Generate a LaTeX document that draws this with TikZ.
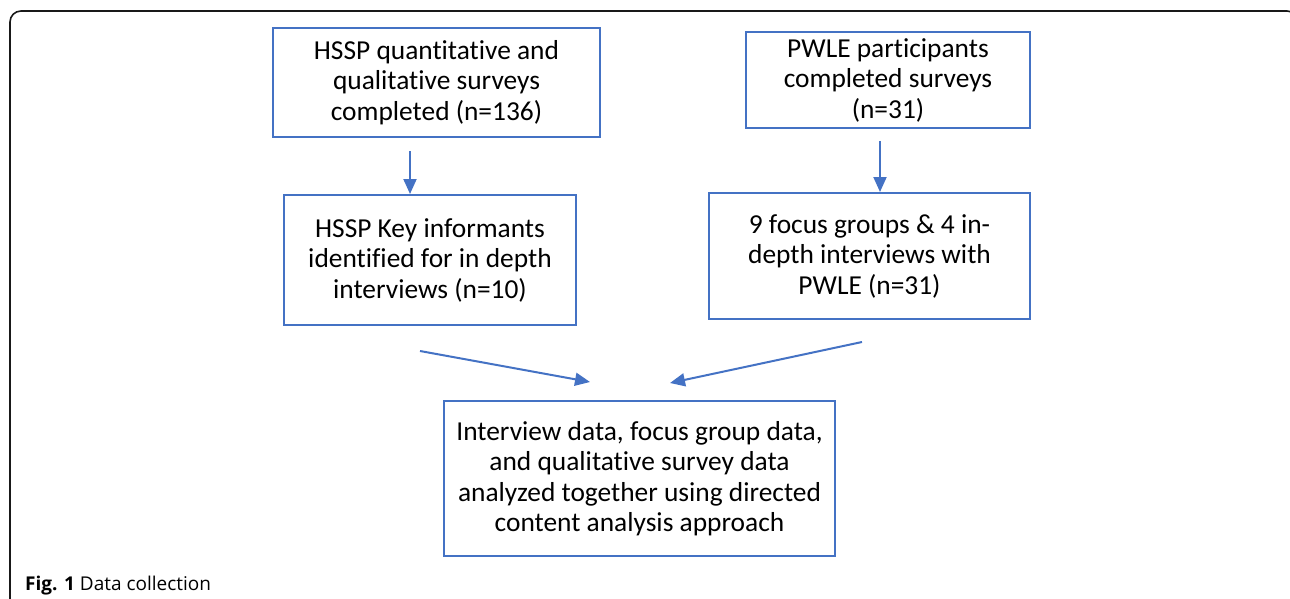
\documentclass[tikz,border=0pt]{standalone}
\usepackage{fontspec}
\setmainfont{Carlito}[Ligatures=NoCommon]
\newfontfamily\capfont{Open Sans}
\usetikzlibrary{arrows.meta, positioning}
\definecolor{boxblue}{RGB}{68,114,196}
\definecolor{framegray}{RGB}{25,25,25}

\begin{document}
\begin{tikzpicture}[x=1pt, y=-1pt,
  flowbox/.style={draw=boxblue, line width=2pt, align=center, inner sep=0pt,
    font=\fontsize{27.4}{30.5}\selectfont},
  flowarrow/.style={boxblue, line width=2pt, -{Triangle[length=15pt,width=13pt]}}]
  \useasboundingbox (0,0) rectangle (1290,599);
  \clip (0,0) rectangle (1290,599);
  % outer frame
  \draw[framegray, line width=1.6pt, rounded corners=11pt] (10,620) -- (10,11) -- (1298,11) -- (1298,620);
  % boxes
  \node[flowbox, minimum width=327pt, minimum height=109pt] (hssp) at (436.5,82.5)
    {HSSP quantitative and\\qualitative surveys\\completed (n=136)};
  \node[flowbox, minimum width=284pt, minimum height=96pt] (pwle) at (888,80)
    {PWLE participants\\completed surveys\\(n=31)};
  \node[flowbox, minimum width=292pt, minimum height=130pt] (key) at (430,260)
    {HSSP Key informants\\identified for in depth\\interviews (n=10)};
  \node[flowbox, minimum width=321pt, minimum height=126pt] (focus) at (869.5,256)
    {9 focus groups \& 4 in-\\depth interviews with\\PWLE (n=31)};
  \node[flowbox, minimum width=391pt, minimum height=155pt] (analysis) at (639.5,478.5)
    {Interview data, focus group data,\\and qualitative survey data\\analyzed together using directed\\content analysis approach};
  % arrows
  \draw[flowarrow] ([xshift=-26.5pt,yshift=-13pt]hssp.south) -- ([xshift=-20pt]key.north);
  \draw[flowarrow] ([xshift=-8pt,yshift=-12pt]pwle.south) -- ([xshift=10.5pt]focus.north);
  \draw[flowarrow] ([xshift=-10pt,yshift=-25pt]key.south) -- ([xshift=-49.5pt,yshift=18pt]analysis.north);
  \draw[flowarrow] ([xshift=-7.5pt,yshift=-22pt]focus.south) -- ([xshift=30.5pt,yshift=17pt]analysis.north);
  % caption
  \node[anchor=base west, inner sep=0pt, font=\capfont\fontsize{19}{22}\selectfont] (cap) at (25,590)
    {\textbf{Fig. 1} Data collection};
\end{tikzpicture}
\end{document}
